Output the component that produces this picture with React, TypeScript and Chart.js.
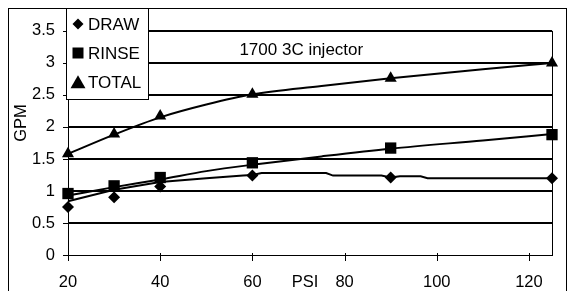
import React, { useEffect, useRef } from "react";
import { Chart, registerables } from "chart.js";

Chart.register(...registerables);

// Measured points
const psi = [20, 30, 40, 60, 90, 125];
const drawGpm = [0.75, 0.9, 1.07, 1.24, 1.21, 1.2];
const rinseGpm = [0.96, 1.08, 1.21, 1.44, 1.67, 1.88];
const totalGpm = [1.58, 1.89, 2.17, 2.51, 2.76, 3.0];

// Fitted curves
const drawCurvePsi = [20, 30, 40, 50, 58, 60, 62, 76, 77.5, 88, 90, 92, 96.5, 98, 125];
const drawCurve = [0.84, 1.02, 1.14, 1.2, 1.24, 1.25, 1.28, 1.28, 1.24, 1.24, 1.21, 1.23, 1.23, 1.2, 1.2];
const rinseCurvePsi = [20, 30, 40, 50, 60, 75, 90, 110, 125];
const rinseCurve = [0.93, 1.06, 1.18, 1.31, 1.41, 1.54, 1.66, 1.79, 1.89];
const totalCurvePsi = [20, 30, 40, 50, 60, 75, 90, 110, 125];
const totalCurve = [1.58, 1.88, 2.15, 2.35, 2.51, 2.64, 2.76, 2.9, 3.0];

const xTicks = [20, 40, 60, 80, 100, 120];
const yTicks = [0, 0.5, 1, 1.5, 2, 2.5, 3, 3.5];
const seriesNames = ["DRAW", "RINSE", "TOTAL"];
const seriesStyles = ["rectRot", "rect", "triangle"];

const FONT = "'Liberation Sans', Arial, sans-serif";

const pts = (xs: number[], ys: number[]) => xs.map((x, i) => ({ x, y: ys[i] }));

function marker(ctx: CanvasRenderingContext2D, style: string, x: number, y: number, s: number) {
  ctx.beginPath();
  if (style === "rectRot") {
    ctx.moveTo(x - s, y);
    ctx.lineTo(x, y - s);
    ctx.lineTo(x + s, y);
    ctx.lineTo(x, y + s);
  } else if (style === "rect") {
    ctx.rect(x - s, y - s, 2 * s, 2 * s);
  } else {
    ctx.moveTo(x, y - s * 1.05);
    ctx.lineTo(x + s * 1.15, y + s * 0.95);
    ctx.lineTo(x - s * 1.15, y + s * 0.95);
  }
  ctx.closePath();
  ctx.fillStyle = "#000";
  ctx.fill();
}

const decor = {
  id: "decor",
  beforeDraw(chart: any) {
    const { ctx, width, height } = chart;
    ctx.save();
    ctx.fillStyle = "#fff";
    ctx.fillRect(0, 0, width, height);
    ctx.restore();
  },
  afterDraw(chart: any) {
    const { ctx, chartArea, width, height } = chart;
    const xs = chart.scales.x;
    const ys = chart.scales.y;
    ctx.save();
    ctx.strokeStyle = "#000";
    ctx.lineWidth = 1;
    // right border of plot
    ctx.beginPath();
    ctx.moveTo(Math.round(chartArea.right) + 0.5, chartArea.top);
    ctx.lineTo(Math.round(chartArea.right) + 0.5, chartArea.bottom);
    ctx.stroke();
    // y tick crosses
    yTicks.forEach((v) => {
      const py = Math.round(ys.getPixelForValue(v)) + 0.5;
      ctx.beginPath();
      ctx.moveTo(chartArea.left - 5, py);
      ctx.lineTo(chartArea.left + 3, py);
      ctx.stroke();
    });
    // x tick crosses
    xTicks.forEach((v) => {
      const px = Math.round(xs.getPixelForValue(v)) + 0.5;
      ctx.beginPath();
      ctx.moveTo(px, chartArea.bottom - 2);
      ctx.lineTo(px, chartArea.bottom + 6);
      ctx.stroke();
    });
    ctx.fillStyle = "#000";
    ctx.font = `17px ${FONT}`;
    ctx.textAlign = "center";
    ctx.textBaseline = "middle";
    // title inside plot
    ctx.fillText("1700 3C injector", chartArea.left + (chartArea.right - chartArea.left) * 0.482, chartArea.top + 19);
    // x axis title
    ctx.font = `16.5px ${FONT}`;
    ctx.fillText("PSI", chartArea.left + (chartArea.right - chartArea.left) * 0.49, chartArea.bottom + 27);
    // y axis title
    ctx.save();
    ctx.translate(13, 115);
    ctx.rotate(-Math.PI / 2);
    ctx.fillText("GPM", 0, 0);
    ctx.restore();
    // legend box
    const lx = 58, ly = 0, lw = 82, lh = 91;
    ctx.fillStyle = "#fff";
    ctx.fillRect(lx, ly, lw, lh);
    ctx.strokeRect(lx + 0.5, ly + 0.5, lw, lh);
    ctx.font = `17px ${FONT}`;
    ctx.textAlign = "left";
    seriesNames.forEach((n, i) => {
      const cy = 16 + i * 29;
      marker(ctx, seriesStyles[i], 70, cy, i === 0 ? 5.5 : i === 1 ? 5.5 : 6.5);
      ctx.fillStyle = "#000";
      ctx.fillText(n, 80, cy + 1);
    });
    // outer border
    ctx.strokeStyle = "#000";
    ctx.strokeRect(0.5, 0.5, width - 1, height - 1);
    ctx.restore();
  },
};

export default function App() {
  const ref = useRef<HTMLCanvasElement>(null);
  useEffect(() => {
    if (!ref.current) return;
    const lineDs = (label: string, data: any[], tension: number) => ({
      type: "line" as const,
      label,
      data,
      showLine: true,
      borderColor: "#000",
      borderWidth: 2,
      pointRadius: 0,
      tension,
      cubicInterpolationMode: tension > 0 ? ("monotone" as const) : ("default" as const),
      clip: false,
      order: 2,
    });
    const markDs = (label: string, data: any[], style: string, r: number) => ({
      type: "scatter" as const,
      label,
      data,
      showLine: false,
      pointStyle: style,
      pointRadius: r,
      backgroundColor: "#000",
      borderColor: "#000",
      borderWidth: 0,
      clip: false,
      order: 1,
    });
    const chart = new Chart(ref.current, {
      type: "scatter",
      data: {
        datasets: [
          markDs("DRAW", pts(psi, drawGpm), "rectRot", 6),
          markDs("RINSE", pts(psi, rinseGpm), "rect", 8),
          markDs("TOTAL", pts(psi, totalGpm), "triangle", 7),
          lineDs("DRAW fit", pts(drawCurvePsi, drawCurve), 0),
          lineDs("RINSE fit", pts(rinseCurvePsi, rinseCurve), 0.4),
          lineDs("TOTAL fit", pts(totalCurvePsi, totalCurve), 0.4),
        ] as any,
      },
      options: {
        responsive: false,
        animation: false,
        events: [],
        layout: { padding: { left: 0, right: 15, top: 16, bottom: 0 } },
        plugins: { legend: { display: false }, tooltip: { enabled: false }, title: { display: false } },
        scales: {
          x: {
            type: "linear",
            min: 20,
            max: 125,
            afterBuildTicks: (s: any) => {
              s.ticks = xTicks.map((v) => ({ value: v }));
            },
            afterFit: (s: any) => {
              s.height = 43;
            },
            grid: { display: false, drawTicks: false },
            border: { display: true, color: "#000", width: 1 },
            ticks: {
              color: "#000",
              padding: 18,
              maxRotation: 0,
              autoSkip: false,
              font: { family: FONT, size: 16.5 },
              callback: (v: any) => String(v),
            },
          },
          y: {
            type: "linear",
            min: 0,
            max: 3.5,
            afterBuildTicks: (s: any) => {
              s.ticks = yTicks.map((v) => ({ value: v }));
            },
            afterFit: (s: any) => {
              s.width = 60;
            },
            grid: {
              color: "#000",
              lineWidth: (c: any) => (c.tick && c.tick.value === 0 ? 0 : 2),
              drawTicks: false,
            },
            border: { display: true, color: "#000", width: 1 },
            ticks: {
              color: "#000",
              padding: 13,
              autoSkip: false,
              font: { family: FONT, size: 16.5 },
              callback: (v: any) => String(v),
            },
          },
        },
      },
      plugins: [decor],
    });
    return () => chart.destroy();
  }, []);
  return <canvas ref={ref} width={559} height={290} style={{ display: "block" }} />;
}
